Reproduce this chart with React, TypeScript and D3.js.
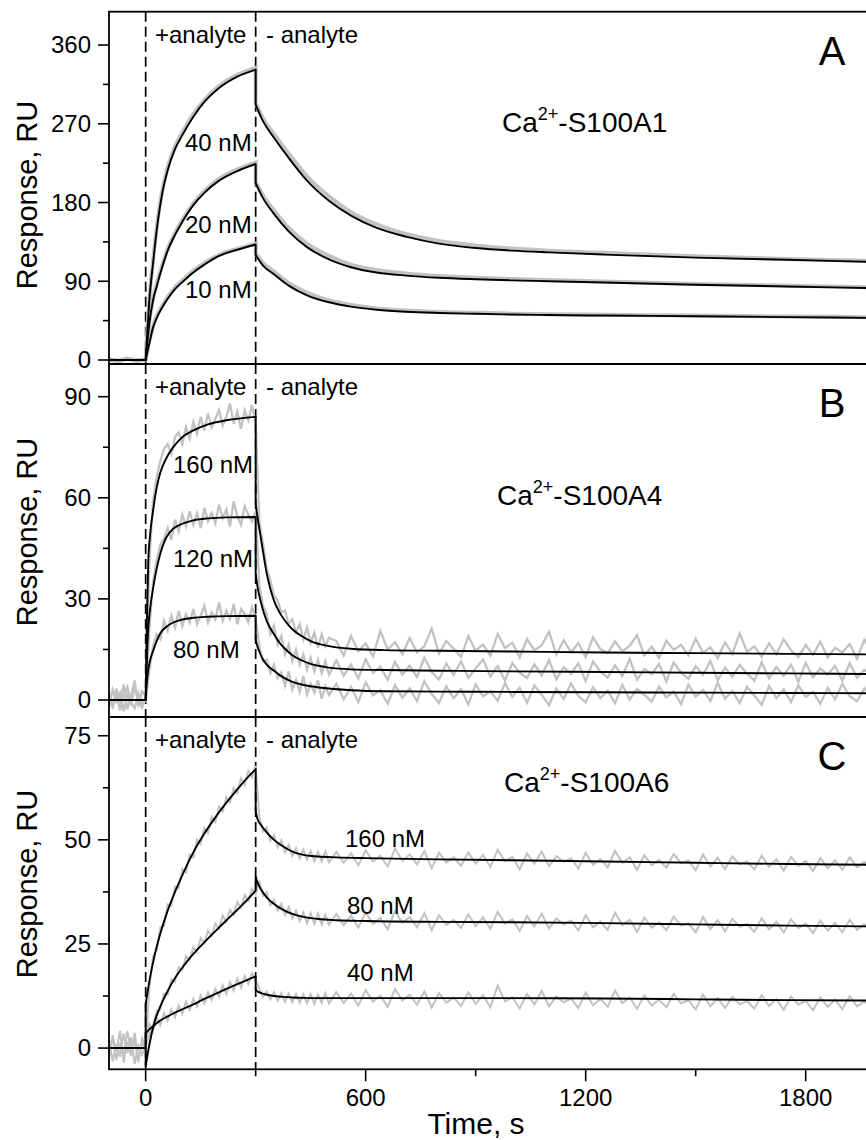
import React from "react";
import * as d3 from "d3";

const FONT = '"Liberation Sans", Arial, Helvetica, sans-serif';

// ---------- shared x axis ----------
const TIME_DOMAIN: [number, number] = [-100, 2100];
const TIME_TICKS_MAJOR = [0, 600, 1200, 1800];
const TIME_TICKS_MINOR = [300, 900, 1500];
const INJECTION_MARKS = [0, 300];

// baseline before injection (fit)
const BASE_T = [-100, 0];
const BASE_V = [0, 0];

// ---------- Panel A : Ca2+-S100A1 ----------
const A_TICKS = [0, 90, 180, 270, 360];
const A_MINOR = [45, 135, 225, 315];
const A_CONC = ["40 nM", "20 nM", "10 nM"];
const A_ASSOC_T = [0, 5, 10, 20, 30, 45, 60, 80, 100, 130, 160, 200, 250, 300];
const A_DISSOC_T = [300, 320, 350, 390, 440, 500, 560, 630, 710, 800, 900, 1000, 1100, 1250, 1500, 1750, 2000];
const A_FIT_ASSOC_40 = [0, 36, 68, 110, 148, 190, 217, 241, 257, 278, 295, 311, 324, 332];
const A_FIT_ASSOC_20 = [0, 22, 42, 68, 84, 106, 125, 143, 158, 177, 191, 205, 216, 224];
const A_FIT_ASSOC_10 = [0, 10, 19, 37, 48, 60, 70, 81, 89, 100, 109, 119, 126, 132];
const A_FIT_DISSOC_40 = [292, 273, 254, 231, 205, 182, 165, 151, 141, 133, 128, 125, 123, 120.5, 117, 114.5, 112];
const A_FIT_DISSOC_20 = [202, 185, 167, 147, 129, 115, 106, 100, 96.5, 94, 92.3, 91, 90, 88.5, 86, 84, 82];
const A_FIT_DISSOC_10 = [120, 108, 98, 85, 74, 66, 61, 57.5, 55.2, 53.8, 52.8, 52, 51.4, 50.8, 50, 49, 48];
const A_RAW_PRE_T = [-100, -75, -50, -25, 0];
const A_RAW_PRE = [1, -1, 1.5, -0.5, 0.5];
const A_RAW_ASSOC_40 = [0, 37, 70, 113, 151, 193, 220, 244, 260, 281, 297, 313, 326, 334];
const A_RAW_ASSOC_20 = [0, 23, 44, 70, 87, 108, 127, 145, 160, 179, 193, 207, 218, 226];
const A_RAW_ASSOC_10 = [0, 11, 21, 38, 50, 62, 72, 83, 91, 102, 111, 120, 127, 133];
const A_RAW_DISSOC_40 = [294, 276, 258, 236, 210, 187, 169, 155, 144, 136, 131, 127.5, 125, 122.5, 118.5, 115.5, 113];
const A_RAW_DISSOC_20 = [204, 188, 171, 151, 133, 119, 109, 103, 99, 96, 94, 92.5, 91.3, 89.6, 87, 85, 83];
const A_RAW_DISSOC_10 = [122, 111, 101, 88, 77, 68, 63, 59, 56.5, 55, 54, 53, 52.3, 51.7, 50.8, 49.8, 48.8];

// ---------- raw sampling grid for panels B and C ----------
const RAW_T = [
  ...d3.range(-100, 0, 10),
  ...d3.range(0, 301, 10),
  ...d3.range(310, 501, 10),
  ...d3.range(520, 2001, 20),
];

// ---------- Panel B : Ca2+-S100A4 ----------
const B_TICKS = [0, 30, 60, 90];
const B_MINOR = [15, 45, 75];
const B_CONC = ["160 nM", "120 nM", "80 nM"];
const B_ASSOC_T = [0, 3, 7, 12, 20, 30, 40, 55, 75, 100, 130, 170, 220, 300];
const B_DISSOC_T = [300, 306, 312, 320, 330, 340, 350, 365, 380, 400, 425, 450, 500, 560, 650, 800, 1000, 1250, 1500, 1750, 2000];
const B_FIT_ASSOC_160 = [0, 22, 41, 49, 56, 63, 67.5, 71.5, 75, 78, 80, 81.8, 83, 84];
const B_FIT_ASSOC_120 = [0, 11, 21, 27, 33, 39, 43.5, 48, 50.8, 52.3, 53.3, 53.9, 54.2, 54.3];
const B_FIT_ASSOC_80 = [0, 5, 9, 11.8, 14.5, 17.5, 19.8, 21.6, 23, 23.9, 24.4, 24.7, 24.9, 25];
const B_FIT_DISSOC_160 = [58.3, 53.5, 49.5, 44, 37.6, 33, 29.5, 26, 23.5, 21, 19, 17.5, 16, 15.2, 14.8, 14.6, 14.4, 14.1, 13.9, 13.7, 13.5];
const B_FIT_DISSOC_120 = [37.6, 33, 30, 26.7, 23.5, 21.3, 19.5, 17, 15.2, 13.3, 11.8, 10.7, 9.6, 9.1, 8.9, 8.7, 8.5, 8.3, 8.1, 7.9, 7.7];
const B_FIT_DISSOC_80 = [17.8, 15.5, 13.8, 12, 10.5, 9.5, 8.7, 7.4, 6.4, 5.4, 4.6, 4.1, 3.4, 2.9, 2.6, 2.5, 2.4, 2.3, 2.2, 2.1, 2.0];
const B_RAW_160 = [
  2.1, -2.5, 3.4, -1.2, 4.6, -2.8, 1.0, 5.8, -1.9, 2.6,
  1.2,
  41, 59, 66, 71, 74.5, 76, 73, 78, 79.5, 76, 81, 77.5, 82.5, 79, 84, 80, 85, 81, 83.5, 86, 81.5, 84, 88, 82, 85.5, 80.5, 86, 83, 87.5, 82,
  53, 46.5, 39, 35.5, 31, 29.5, 26, 26.5, 22.5, 24, 20, 22.5, 18, 21.5, 17, 20, 15.5, 19.5, 16, 18.5,
  17.5, 13.2, 19.0, 14.5, 16.8, 12.9, 20.5, 15.0, 17.2, 13.6, 18.4, 14.1, 16.0, 21.2, 13.8, 17.5, 15.2, 12.8, 18.9, 14.6,
  16.5, 13.1, 19.6, 15.4, 17.0, 12.6, 18.1, 14.8, 16.2, 20.3, 13.5, 17.8, 14.2, 16.9, 12.7, 18.6, 15.1, 13.9, 17.4, 14.4,
  16.1, 19.2, 13.2, 15.8, 12.5, 17.6, 14.9, 16.4, 13.3, 18.2, 14.0, 15.6, 12.4, 17.1, 13.7, 19.8, 14.3, 15.9, 12.9, 16.8,
  13.6, 18.0, 14.7, 12.8, 16.3, 13.4, 17.3, 12.6, 15.5, 14.1, 16.6, 12.3, 17.9, 13.8, 15.2,
];
const B_RAW_120 = [
  -1.6, 3.1, -0.4, 2.2, -3.3, 1.7, -1.0, 3.8, 0.3, -2.2,
  0.5,
  21, 35, 41.5, 46, 48, 51, 47.5, 53.5, 50, 55, 51.5, 56, 52, 55.5, 51, 57, 53, 55.5, 52.5, 58, 54, 56.5, 51.5, 59, 54.5, 52, 57.5, 55, 53, 56,
  34, 28, 25.5, 19.5, 22, 16.5, 19, 13.5, 16.5, 11.5, 15, 10.5, 13.5, 9, 12.5, 8.5, 12, 8, 11.5, 7.5,
  11.8, 7.2, 10.5, 6.4, 12.1, 8.0, 9.9, 5.9, 11.3, 7.6, 10.2, 6.8, 12.6, 8.3, 6.1, 10.8, 7.4, 11.5, 6.6, 9.4,
  12.0, 7.0, 10.1, 5.8, 11.0, 8.1, 6.5, 10.6, 7.3, 11.9, 6.2, 9.7, 7.8, 10.9, 5.6, 11.4, 8.4, 6.7, 10.3, 7.1,
  12.2, 6.0, 9.2, 7.7, 10.7, 5.5, 11.1, 8.2, 6.3, 10.0, 7.5, 11.6, 5.9, 9.6, 6.9, 10.4, 7.9, 5.7, 11.2, 6.4,
  9.8, 7.2, 10.5, 5.4, 11.0, 6.8, 9.3, 7.6, 10.1, 5.8, 10.9, 6.6, 9.0, 7.4, 10.2,
];
const B_RAW_80 = [
  0.8, -1.9, 2.7, -3.1, 1.3, 3.9, -0.6, -2.4, 2.0, -1.3,
  -0.2,
  8.5, 16, 19.5, 18, 23.5, 20.5, 25, 21.5, 26.5, 22, 25.5, 23, 27, 22.5, 25, 28, 23, 26, 24, 29, 23.5, 26.5, 24, 28.5, 22.5, 27, 25.5, 23, 27.5, 24.5,
  16, 11.5, 12, 8, 10.5, 6.5, 8.2, 4.3, 8.5, 3.1, 6.0, 2.4, 7.1, 1.6, 4.8, 2.2, 5.9, 0.4, 4.1, 1.5,
  4.8, 0.2, 3.9, -0.6, 5.2, 1.4, 2.9, -1.1, 4.4, 0.7, 3.5, -0.4, 5.6, 1.8, -0.9, 4.1, 0.5, 3.2, -1.3, 4.7,
  1.1, 2.6, -0.2, 5.0, 0.9, 3.7, -0.8, 4.3, 1.6, -1.5, 3.4, 0.3, 4.9, 1.2, -0.7, 3.8, 0.6, 2.8, -1.0, 4.5,
  0.1, 3.3, 1.5, -0.5, 4.0, 0.8, 2.5, -1.2, 4.6, 1.0, 3.0, -0.3, 5.1, 0.4, 2.7, -0.9, 3.9, 1.3, -1.4, 4.2,
  0.6, 3.1, -0.6, 4.4, 0.9, 2.4, -1.1, 3.6, 0.2, 4.8, 1.1, -0.4, 3.5, 0.7, 2.9,
];

// ---------- Panel C : Ca2+-S100A6 ----------
const C_TICKS = [0, 25, 50, 75];
const C_MINOR = [12.5, 37.5, 62.5];
const C_CONC = ["160 nM", "80 nM", "40 nM"];
const C_ASSOC_T = [0, 10, 25, 40, 60, 80, 105, 130, 160, 195, 230, 265, 300];
const C_DISSOC_T = [300, 305, 315, 330, 350, 375, 400, 430, 470, 520, 600, 800, 1000, 1250, 1500, 1750, 2000];
const C_FIT_ASSOC_160 = [10.5, 16, 22.5, 27.5, 33, 37.5, 42.5, 47, 51.5, 56, 60, 63.7, 67];
const C_FIT_ASSOC_80 = [-4.4, 0.8, 6.5, 10, 13.7, 16.8, 19.9, 22.6, 25.4, 28.5, 31.5, 34.5, 37.8];
const C_FIT_ASSOC_40 = [3.6, 4.5, 5.6, 6.6, 7.6, 8.5, 9.5, 10.5, 11.8, 13.2, 14.6, 15.9, 17.2];
const C_FIT_DISSOC_160 = [56.8, 55, 53.5, 51.8, 50, 48.4, 47.2, 46.4, 46, 45.8, 45.6, 45.3, 45.1, 44.8, 44.5, 44.2, 44];
const C_FIT_DISSOC_80 = [41.2, 39.8, 38, 36.2, 34.6, 33.2, 32.2, 31.5, 31, 30.7, 30.5, 30.3, 30.2, 30, 29.7, 29.4, 29.2];
const C_FIT_DISSOC_40 = [14, 13.6, 13.2, 12.8, 12.5, 12.3, 12.15, 12.05, 12, 12, 12, 12, 12, 11.9, 11.7, 11.5, 11.4];
const C_RAW_160 = [
  -2.4, 3.1, -0.8, 4.2, -3.5, 1.6, -1.9, 3.7, -2.8, 1.3,
  -0.3,
  14.5, 22, 23.5, 29, 29.3, 34.5, 34.2, 38.8, 38.4, 43, 42.2, 46.5, 45.8, 50, 49, 52.8, 51.6, 55.5, 54.3, 58, 56.8, 60.2, 59, 62.5, 61.3, 64.8, 63.2, 66.5, 65, 67.8,
  55.5, 52, 53, 49.8, 51.2, 48.2, 49.9, 47, 48.8, 46.1, 48, 45.5, 47.6, 45.2, 47.3, 44.9, 47.1, 44.8, 47.2, 44.6,
  47.1, 44.5, 46.8, 43.9, 47.5, 44.8, 46.2, 43.6, 47.9, 45.0, 46.5, 44.1, 47.3, 43.2, 46.9, 44.6, 45.8, 43.8, 47.0, 44.3,
  46.4, 43.5, 47.6, 44.9, 45.9, 42.9, 46.7, 44.2, 47.2, 43.7, 46.1, 44.7, 45.6, 43.1, 46.9, 44.0, 45.4, 43.4, 47.4, 44.5,
  45.8, 42.8, 46.3, 43.9, 45.2, 43.3, 46.6, 44.4, 45.0, 42.7, 46.5, 43.6, 45.7, 43.0, 46.0, 44.1, 44.8, 42.9, 46.2, 43.5,
  45.3, 42.6, 45.9, 43.8, 44.9, 42.5, 45.6, 43.2, 45.1, 42.8, 45.8, 43.4, 44.7, 42.9, 45.4,
];
const C_RAW_80 = [
  1.9, -3.2, 0.9, -2.1, 3.5, -1.2, 2.6, -3.8, 0.6, -1.6,
  0.6,
  3.2, 5.5, 8.9, 9.2, 13.1, 12.8, 16.5, 16, 19.4, 18.8, 22.1, 21.2, 24.3, 23.1, 26.4, 25.2, 28.2, 26.9, 29.9, 28.6, 31.8, 30.3, 33.2, 32, 35.1, 33.7, 36.8, 35.4, 38.3, 37,
  40.2, 36.5, 37.4, 34.3, 35.6, 33, 34.7, 32, 33.9, 31.1, 33, 30.5, 32.6, 30, 32.4, 29.8, 32.3, 29.7, 32, 29.6,
  32.2, 29.5, 31.8, 28.9, 32.6, 29.8, 31.3, 28.5, 32.9, 30.1, 31.5, 29.0, 32.4, 28.3, 31.9, 29.6, 30.8, 28.8, 32.1, 29.3,
  31.4, 28.6, 32.7, 29.9, 30.9, 28.1, 31.7, 29.2, 32.3, 28.7, 31.1, 29.7, 30.6, 28.2, 31.9, 29.0, 30.4, 28.4, 32.5, 29.5,
  30.8, 27.9, 31.3, 28.9, 30.2, 28.3, 31.6, 29.4, 30.0, 27.8, 31.5, 28.6, 30.7, 28.0, 31.0, 29.1, 29.8, 27.9, 31.2, 28.5,
  30.3, 27.7, 30.9, 28.8, 29.9, 27.6, 30.6, 28.2, 30.1, 27.8, 30.8, 28.4, 29.7, 27.9, 30.4,
];
const C_RAW_40 = [
  -1.0, 2.3, -2.9, 1.3, -2.0, 4.1, -0.4, 1.7, -3.4, 2.4,
  0.2,
  5.8, 4.1, 7.3, 5.5, 8.4, 6.6, 9.3, 7.4, 10.2, 8.3, 11.1, 9.2, 11.8, 9.9, 12.6, 10.7, 13.4, 11.5, 14.2, 12.3, 15.1, 13, 15.9, 13.8, 16.6, 14.5, 17.3, 15.4, 18, 16.4,
  14.2, 12.3, 13.6, 11.7, 13.4, 11.4, 13.2, 11.1, 13.1, 11, 13, 10.9, 12.9, 10.8, 13, 10.6, 12.8, 10.9, 13.2, 10.7,
  13.5, 10.8, 13.1, 10.2, 13.9, 11.1, 12.6, 9.9, 14.2, 11.4, 12.8, 10.4, 13.6, 9.7, 13.2, 10.9, 12.1, 10.1, 13.4, 10.6,
  12.7, 9.8, 15.0, 11.2, 12.2, 9.5, 13.0, 10.5, 13.7, 10.0, 12.4, 11.0, 11.9, 9.6, 13.3, 10.3, 11.8, 9.9, 13.8, 10.8,
  12.1, 9.4, 12.6, 10.2, 11.6, 9.8, 13.0, 10.7, 11.5, 9.3, 12.9, 10.0, 12.0, 9.6, 12.3, 10.5, 11.3, 9.5, 12.7, 10.1,
  11.7, 9.2, 12.4, 10.4, 11.4, 9.1, 12.2, 9.9, 11.6, 9.4, 12.5, 10.0, 11.2, 9.6, 12.1,
];

// ---------- texts ----------
const PANEL_LETTERS = ["A", "B", "C"];
const PROTEINS = ["S100A1", "S100A4", "S100A6"];
const Y_TITLE = "Response, RU";
const X_TITLE = "Time, s";
const PHASE_ON = "+analyte";
const PHASE_OFF = "- analyte";

type Seg = { t: number[]; v: number[] };

function buildPath(segs: Seg[], x: (n: number) => number, y: (n: number) => number, curve: d3.CurveFactory) {
  const line = d3
    .line<[number, number]>()
    .x((d) => x(d[0]))
    .y((d) => y(d[1]))
    .curve(curve);
  return segs
    .map((s, i) => {
      const p = line(d3.zip(s.t, s.v) as [number, number][]) || "";
      return i === 0 ? p : p.replace(/^M/, "L");
    })
    .join("");
}

const X_LEFT = 109;
const X_RIGHT = 915.7;

export default function App() {
  const x = d3.scaleLinear().domain(TIME_DOMAIN).range([X_LEFT, X_RIGHT]);

  const panels = [
    {
      top: 11.7,
      bottom: 364,
      yDomain: [-4.57, 398.1],
      ticks: A_TICKS,
      minor: A_MINOR,
      titleY: 195,
      letterY: 65,
      protein: [502, 132],
      fits: [
        [A_ASSOC_T, A_FIT_ASSOC_40, A_DISSOC_T, A_FIT_DISSOC_40],
        [A_ASSOC_T, A_FIT_ASSOC_20, A_DISSOC_T, A_FIT_DISSOC_20],
        [A_ASSOC_T, A_FIT_ASSOC_10, A_DISSOC_T, A_FIT_DISSOC_10],
      ],
      raws: [
        [
          { t: A_RAW_PRE_T, v: A_RAW_PRE },
          { t: A_ASSOC_T, v: A_RAW_ASSOC_40 },
          { t: A_DISSOC_T, v: A_RAW_DISSOC_40 },
        ],
        [
          { t: A_RAW_PRE_T, v: A_RAW_PRE },
          { t: A_ASSOC_T, v: A_RAW_ASSOC_20 },
          { t: A_DISSOC_T, v: A_RAW_DISSOC_20 },
        ],
        [
          { t: A_RAW_PRE_T, v: A_RAW_PRE },
          { t: A_ASSOC_T, v: A_RAW_ASSOC_10 },
          { t: A_DISSOC_T, v: A_RAW_DISSOC_10 },
        ],
      ] as Seg[][],
      rawSmooth: true,
      rawWidth: 4,
      conc: A_CONC,
      concPos: [
        [185, 151],
        [185, 233],
        [185, 298],
      ],
    },
    {
      top: 364,
      bottom: 717,
      yDomain: [-5.04, 99.7],
      ticks: B_TICKS,
      minor: B_MINOR,
      titleY: 532,
      letterY: 417,
      protein: [497, 505],
      fits: [
        [B_ASSOC_T, B_FIT_ASSOC_160, B_DISSOC_T, B_FIT_DISSOC_160],
        [B_ASSOC_T, B_FIT_ASSOC_120, B_DISSOC_T, B_FIT_DISSOC_120],
        [B_ASSOC_T, B_FIT_ASSOC_80, B_DISSOC_T, B_FIT_DISSOC_80],
      ],
      raws: [[{ t: RAW_T, v: B_RAW_160 }], [{ t: RAW_T, v: B_RAW_120 }], [{ t: RAW_T, v: B_RAW_80 }]] as Seg[][],
      rawSmooth: false,
      rawWidth: 2.3,
      conc: B_CONC,
      concPos: [
        [173, 473],
        [173, 567],
        [173, 658],
      ],
    },
    {
      top: 717,
      bottom: 1069.3,
      yDomain: [-5.1, 79.5],
      ticks: C_TICKS,
      minor: C_MINOR,
      titleY: 884,
      letterY: 770,
      protein: [504, 792],
      fits: [
        [C_ASSOC_T, C_FIT_ASSOC_160, C_DISSOC_T, C_FIT_DISSOC_160],
        [C_ASSOC_T, C_FIT_ASSOC_80, C_DISSOC_T, C_FIT_DISSOC_80],
        [C_ASSOC_T, C_FIT_ASSOC_40, C_DISSOC_T, C_FIT_DISSOC_40],
      ],
      raws: [[{ t: RAW_T, v: C_RAW_160 }], [{ t: RAW_T, v: C_RAW_80 }], [{ t: RAW_T, v: C_RAW_40 }]] as Seg[][],
      rawSmooth: false,
      rawWidth: 2,
      conc: C_CONC,
      concPos: [
        [345, 847],
        [347, 914],
        [347, 981],
      ],
    },
  ];

  const lastBottom = panels[panels.length - 1].bottom;

  return (
    <svg
      width={866}
      height={1140}
      style={{ position: "absolute", left: 0, top: 0, background: "#fff" }}
      fontFamily={FONT}
    >
      <rect x={0} y={0} width={866} height={1140} fill="#fff" />
      <defs>
        {panels.map((p, i) => (
          <clipPath id={`clip${i}`} key={i}>
            <rect x={X_LEFT} y={p.top} width={X_RIGHT - X_LEFT} height={p.bottom - p.top} />
          </clipPath>
        ))}
      </defs>
      {panels.map((p, i) => {
        const y = d3.scaleLinear().domain(p.yDomain).range([p.bottom, p.top]);
        return (
          <g key={i}>
            {/* injection markers */}
            {INJECTION_MARKS.map((t) => (
              <line
                key={t}
                x1={x(t)}
                x2={x(t)}
                y1={p.top}
                y2={p.bottom}
                stroke="#000"
                strokeWidth={1.7}
                strokeDasharray="10,5"
              />
            ))}
            <g clipPath={`url(#clip${i})`}>
              {p.raws.map((segs, k) => (
                <path
                  key={`r${k}`}
                  d={buildPath(segs, x, y, p.rawSmooth ? d3.curveMonotoneX : d3.curveLinear)}
                  fill="none"
                  stroke="#c2c2c2"
                  strokeWidth={p.rawWidth}
                  strokeLinejoin="miter"
                />
              ))}
              {p.fits.map((f, k) => (
                <path
                  key={`f${k}`}
                  d={buildPath(
                    [
                      { t: BASE_T, v: BASE_V },
                      { t: f[0], v: f[1] },
                      { t: f[2], v: f[3] },
                    ],
                    x,
                    y,
                    d3.curveMonotoneX
                  )}
                  fill="none"
                  stroke="#000"
                  strokeWidth={1.9}
                  strokeLinejoin="round"
                />
              ))}
            </g>
            {/* frame */}
            <rect
              x={X_LEFT}
              y={p.top}
              width={X_RIGHT - X_LEFT}
              height={p.bottom - p.top}
              fill="none"
              stroke="#000"
              strokeWidth={1.8}
            />
            {/* y ticks */}
            {p.ticks.map((v) => (
              <g key={`t${v}`}>
                <line x1={X_LEFT - 11} x2={X_LEFT} y1={y(v)} y2={y(v)} stroke="#000" strokeWidth={1.6} />
                <text x={91} y={y(v)} dy="0.35em" textAnchor="end" fontSize={24} fill="#000">
                  {v}
                </text>
              </g>
            ))}
            {p.minor.map((v) => (
              <line key={`m${v}`} x1={X_LEFT - 6} x2={X_LEFT} y1={y(v)} y2={y(v)} stroke="#000" strokeWidth={1.6} />
            ))}
            {/* y title */}
            <text
              transform={`translate(37,${p.titleY}) rotate(-90)`}
              textAnchor="middle"
              fontSize={29}
              fill="#000"
            >
              {Y_TITLE}
            </text>
            {/* phase labels */}
            <text x={155} y={p.top + 31} fontSize={24} fill="#000">
              {PHASE_ON}
            </text>
            <text x={266} y={p.top + 31} fontSize={24} fill="#000">
              {PHASE_OFF}
            </text>
            {/* panel letter */}
            <text x={832} y={p.letterY} textAnchor="middle" fontSize={40} fill="#000">
              {PANEL_LETTERS[i]}
            </text>
            {/* protein label */}
            <text x={p.protein[0]} y={p.protein[1]} fontSize={28} fill="#000">
              Ca
              <tspan dy={-12} fontSize={18}>
                2+
              </tspan>
              <tspan dy={12}>-{PROTEINS[i]}</tspan>
            </text>
            {/* concentration labels */}
            {p.conc.map((c, k) => (
              <text key={c} x={p.concPos[k][0]} y={p.concPos[k][1]} fontSize={24} fill="#000">
                {c}
              </text>
            ))}
          </g>
        );
      })}
      {/* x axis */}
      {TIME_TICKS_MAJOR.map((t) => (
        <g key={`xt${t}`}>
          <line x1={x(t)} x2={x(t)} y1={lastBottom} y2={lastBottom + 12} stroke="#000" strokeWidth={1.6} />
          <text x={x(t)} y={1106} textAnchor="middle" fontSize={24} fill="#000">
            {t}
          </text>
        </g>
      ))}
      {TIME_TICKS_MINOR.map((t) => (
        <line key={`xm${t}`} x1={x(t)} x2={x(t)} y1={lastBottom} y2={lastBottom + 7} stroke="#000" strokeWidth={1.6} />
      ))}
      <text x={476} y={1134} textAnchor="middle" fontSize={30} fill="#000">
        {X_TITLE}
      </text>
    </svg>
  );
}
